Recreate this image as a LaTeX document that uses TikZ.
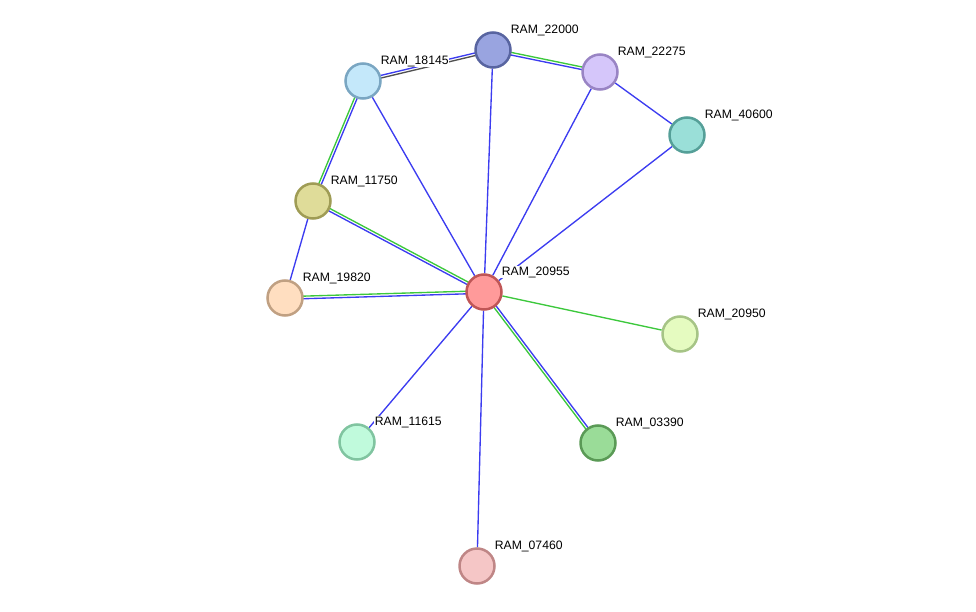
\documentclass[tikz,border=0pt]{standalone}
\usepackage{fontspec}
\setmainfont{Liberation Sans}
\usetikzlibrary{calc,backgrounds}
\definecolor{eblue}{HTML}{3C3CF0}
\definecolor{egreen}{HTML}{3CC83C}
\definecolor{egray}{HTML}{505050}
% node fills and rims
\definecolor{fA}{HTML}{99A4E0}\definecolor{bA}{HTML}{5864A0}
\definecolor{fB}{HTML}{C4E8FA}\definecolor{bB}{HTML}{7AA6C2}
\definecolor{fC}{HTML}{D5C6FA}\definecolor{bC}{HTML}{9984C4}
\definecolor{fD}{HTML}{9ADFD8}\definecolor{bD}{HTML}{559F98}
\definecolor{fE}{HTML}{DFDC99}\definecolor{bE}{HTML}{9F9C55}
\definecolor{fF}{HTML}{FF9A9A}\definecolor{bF}{HTML}{C05656}
\definecolor{fG}{HTML}{FFDEC0}\definecolor{bG}{HTML}{C0A082}
\definecolor{fH}{HTML}{E5FBC0}\definecolor{bH}{HTML}{A6C486}
\definecolor{fI}{HTML}{C0FADC}\definecolor{bI}{HTML}{80C4A0}
\definecolor{fJ}{HTML}{9ADC98}\definecolor{bJ}{HTML}{5A9A56}
\definecolor{fK}{HTML}{F5C6C6}\definecolor{bK}{HTML}{BF8686}
\newcommand\pairedge[4]{%
  \draw[lnk,#3] ($(#1)!1.3pt!90:(#2)$) -- ($(#2)!1.3pt!-90:(#1)$);
  \draw[lnk,#4] ($(#1)!1.3pt!-90:(#2)$) -- ($(#2)!1.3pt!90:(#1)$);}

\begin{document}
\begin{tikzpicture}[x=1pt,y=-1pt,
  prot/.style={circle,draw,line width=2.5pt,minimum size=35pt,inner sep=0pt},
  lab/.style={anchor=west,font=\fontsize{12.2}{14}\selectfont,fill=white,inner sep=0.6pt},
  lnk/.style={line width=1.35pt}]
\useasboundingbox (0,0) rectangle (976,612);
\foreach \nm/\px/\py/\c in {22000/493/50/A,18145/363/81/B,22275/600/72/C,40600/687/135/D,
    11750/313/201/E,20955/484/292/F,19820/285/298/G,20950/680/334/H,
    11615/357/442/I,03390/598/443/J,07460/477/566/K}{
  \node[prot,fill=f\c,draw=b\c] (r\nm) at (\px,\py) {};
  \node[lab] (l\nm) at ([shift={(17,-20)}]r\nm) {RAM\_\nm};
}
% links
\begin{scope}[on background layer]
\pairedge{r18145}{r22000}{eblue}{egray}
\pairedge{r22000}{r22275}{egreen}{eblue}
\pairedge{r18145}{r11750}{eblue}{egreen}
\pairedge{r11750}{r20955}{egreen}{eblue}
\pairedge{r19820}{r20955}{egreen}{eblue}
\pairedge{r20955}{r03390}{eblue}{egreen}
\draw[lnk,eblue] (r22000) -- (r20955);
\draw[lnk,eblue] (r18145) -- (r20955);
\draw[lnk,eblue] (r22275) -- (r20955);
\draw[lnk,eblue] (r22275) -- (r40600);
\draw[lnk,eblue] (r40600) -- (r20955);
\draw[lnk,eblue] (r11750) -- (r19820);
\draw[lnk,eblue] (r20955) -- (r11615);
\draw[lnk,eblue] (r20955) -- (r07460);
\draw[lnk,egreen] (r20955) -- (r20950);
\end{scope}
\end{tikzpicture}
\end{document}
